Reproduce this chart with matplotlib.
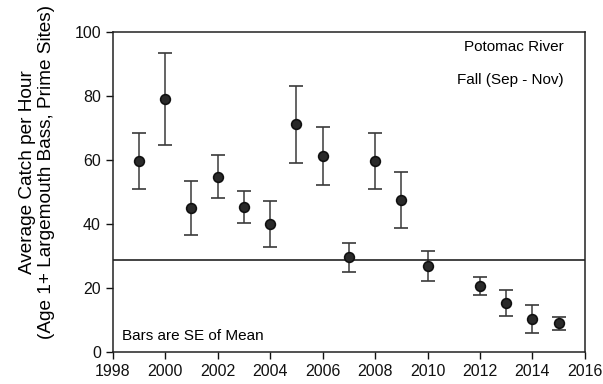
import matplotlib
matplotlib.use("Agg")
import matplotlib.pyplot as plt
import numpy as np

plt.rcParams['font.family'] = ['Liberation Sans', 'DejaVu Sans']

years = [1999, 2000, 2001, 2002, 2003, 2004, 2005, 2006, 2007, 2008,
         2009, 2010, 2012, 2013, 2014, 2015]
cpue = [59.6, 79.0, 45.0, 54.8, 45.2, 40.0, 71.2, 61.2, 29.6, 59.6,
        47.5, 26.9, 20.7, 15.4, 10.3, 9.0]
se = [8.8, 14.4, 8.3, 6.6, 5.0, 7.3, 12.0, 9.0, 4.6, 8.8,
      8.8, 4.6, 2.9, 4.1, 4.3, 2.0]
target = 28.8

fig, ax = plt.subplots(figsize=(6.03, 3.84), dpi=100)
fig.subplots_adjust(left=0.187, right=0.970, top=0.917, bottom=0.083)

ax.errorbar(years, cpue, yerr=se, fmt='o', color='#2a2a2a', ecolor='#3a3a3a',
            markersize=7, markeredgecolor='#111111', markeredgewidth=1.2,
            elinewidth=1.1, capsize=5, capthick=1.1)
ax.axhline(target, color='#222222', linewidth=1.2)

ax.set_xlim(1998, 2016)
ax.set_ylim(0, 100)
ax.set_xticks(np.arange(1998, 2017, 2))
ax.set_yticks(np.arange(0, 101, 20))
ax.tick_params(direction='out', length=5, width=1, labelsize=11.5, colors='#111111')
for s in ax.spines.values():
    s.set_linewidth(1.1)
    s.set_color('#222222')

# y label placed by hand, it sits a bit above the axes centre
fig.text(37/603, 1-172/384, "Average Catch per Hour\n(Age 1+ Largemouth Bass, Prime Sites)",
         rotation=90, ha='center', va='center', fontsize=13.7, linespacing=1.15)

ax.text(0.955, 0.953, "Potomac River", transform=ax.transAxes, ha='right',
        va='center', fontsize=11)
ax.text(0.955, 0.85, "Fall (Sep - Nov)", transform=ax.transAxes, ha='right',
        va='center', fontsize=11)
ax.text(0.02, 0.05, "Bars are SE of Mean", transform=ax.transAxes, ha='left',
        va='center', fontsize=11)

plt.savefig("out.png", dpi=100)
